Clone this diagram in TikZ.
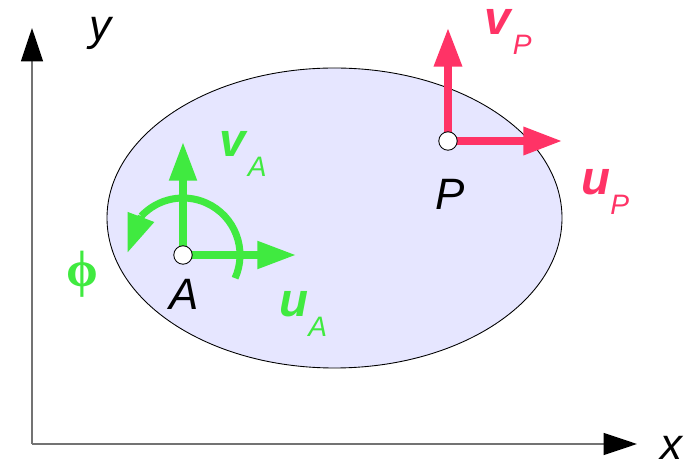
\documentclass[tikz,border=0pt]{standalone}
\usepackage{fontspec}
\setmainfont{Liberation Sans}
\newfontfamily\phifont{Liberation Serif}
\usetikzlibrary{arrows.meta}
\definecolor{vecgreen}{HTML}{40EA40}
\definecolor{vecred}{HTML}{FF3366}
\definecolor{bodyfill}{HTML}{E6E6FF}
\newcommand{\veclabel}[2]{\fontsize{27}{30}\selectfont\textbf{\textit{#1}}\raisebox{-11pt}{\fontsize{16}{18}\selectfont\textit{#2}}}
\begin{document}
\begin{tikzpicture}[x=0.02cm, y=-0.02cm]
        \tikzset{axis/.style={draw=black!55, line width=0.8pt, -{Triangle[length=19pt, width=12.5pt, color=black]}},
                 greenvec/.style={draw=vecgreen, line width=4pt, -{Triangle[length=22pt, width=15pt]}},
                 redvec/.style={draw=vecred, line width=4pt, -{Triangle[length=22pt, width=15.3pt]}},
                 pointmark/.style={circle, draw=black, line width=0.5pt, fill=white, minimum size=10.5pt, inner sep=0pt},
                 coordlabel/.style={font=\fontsize{25}{30}\selectfont\itshape, inner sep=0pt}}
        \useasboundingbox (0,0) rectangle (693,465);

        % axes
        \coordinate (origin) at (32,444);
        \coordinate (ytip) at (32,28);
        \coordinate (xtip) at (637,444);
        \draw[axis] (origin) -- (ytip);
        \draw[axis] (origin) -- (xtip);
        \node[coordlabel] (ylabel) at (100,33) {y};
        \node[coordlabel] (xlabel) at (671,448) {x};

        % rigid body
        \fill[bodyfill, draw=black, line width=0.5pt] (334.5,218) ellipse [x radius=227.5, y radius=150];

        % frame at A
        \coordinate (A) at (183,255);
        \coordinate (vAtip) at (183,142);
        \coordinate (uAtip) at (296,255);
        \draw[greenvec] (A) -- (vAtip);
        \draw[greenvec] (A) -- (uAtip);
        \draw[draw=vecgreen, line width=4pt] (A) ++(24:57) arc[start angle=24, end angle=-137, radius=57] coordinate (arcend);
        \draw[greenvec] (arcend) -- ++(-14,37);
        \node[pointmark] (Amark) at (A) {};
        \node[coordlabel, anchor=base] (Alabel) at (184,310) {A};
        \node[anchor=base west, inner sep=0pt, text=vecgreen] (vAlabel) at (219,157) {\veclabel{v}{A}};
        \node[anchor=base west, inner sep=0pt, text=vecgreen] (uAlabel) at (279,317) {\veclabel{u}{A}};
        \node[text=vecgreen, inner sep=0pt, font=\fontsize{29}{32}\selectfont\phifont\bfseries] (philabel) at (82,274) {ϕ};

        % frame at P
        \coordinate (P) at (448,141);
        \coordinate (vPtip) at (448,28);
        \coordinate (uPtip) at (562,141);
        \draw[redvec] (P) -- (vPtip);
        \draw[redvec] (P) -- (uPtip);
        \node[pointmark] (Pmark) at (P) {};
        \node[coordlabel, anchor=base] (Plabel) at (450,210) {P};
        \node[anchor=base west, inner sep=0pt, text=vecred] (vPlabel) at (484,35) {\veclabel{v}{P}};
        \node[anchor=base west, inner sep=0pt, text=vecred] (uPlabel) at (581,195) {\veclabel{u}{P}};
    \end{tikzpicture}
\end{document}
